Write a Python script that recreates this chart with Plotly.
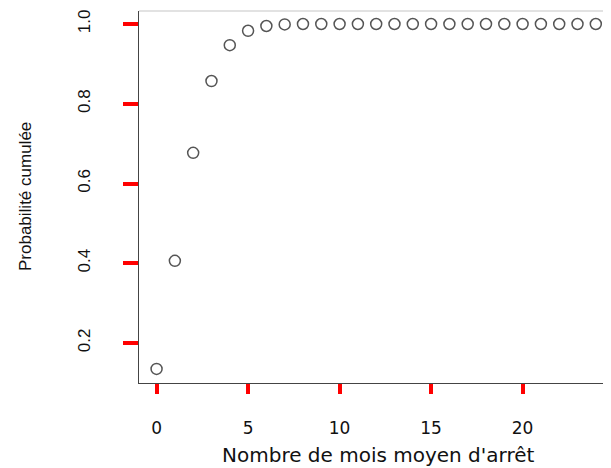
import plotly.graph_objects as go

months = list(range(0, 25))
cum_prob = [0.135, 0.406, 0.677, 0.857, 0.947, 0.983, 0.995, 0.999,
            1.0, 1.0, 1.0, 1.0, 1.0, 1.0, 1.0, 1.0, 1.0, 1.0, 1.0, 1.0,
            1.0, 1.0, 1.0, 1.0, 1.0]
x_ticks = [0, 5, 10, 15, 20]
y_ticks = [0.2, 0.4, 0.6, 0.8, 1.0]
y_tick_labels = ["0.2", "0.4", "0.6", "0.8", "1.0"]

# page body has an 8px margin, so the figure is 8px smaller and shifted
W, H = 603, 460
L, T, B = 131, 3, 85
pw, ph = W - L, H - T - B

fig = go.Figure()
fig.add_trace(go.Scatter(
    x=months, y=cum_prob, mode="markers",
    marker=dict(symbol="circle-open", size=11, color="#555555",
                line=dict(width=1.5, color="#555555")),
    showlegend=False, hoverinfo="skip",
))

fig.update_layout(
    template="simple_white",
    width=W, height=H,
    margin=dict(l=L, r=0, t=T, b=B),
    paper_bgcolor="white", plot_bgcolor="white",
    xaxis=dict(range=[-0.96, 24.83], tickmode="array", tickvals=x_ticks,
               ticks="outside", ticklen=10, tickwidth=4, tickcolor="red",
               showline=True, linecolor="#444", linewidth=1,
               showgrid=False, zeroline=False, ticklabelstandoff=20,
               tickfont=dict(family="DejaVu Sans", size=17, color="#111")),
    yaxis=dict(range=[0.0997, 1.0326], tickmode="array", tickvals=y_ticks,
               ticktext=y_tick_labels,
               ticks="outside", ticklen=15, tickwidth=4, tickcolor="red",
               showline=True, linecolor="#444", linewidth=1,
               showgrid=False, zeroline=False, tickangle=-90,
               ticklabelstandoff=26,
               tickfont=dict(family="Liberation Sans", size=17, color="#111")),
    shapes=[dict(type="line", xref="paper", yref="paper", x0=0, x1=1, y0=1, y1=1,
                 line=dict(color="#444", width=1))],
    annotations=[
        dict(text="Nombre de mois moyen d'arrêt", xref="paper", yref="paper",
             x=(378 - 139) / pw, y=-(455 - 383) / ph, xanchor="center", yanchor="middle",
             showarrow=False, font=dict(family="DejaVu Sans", size=20, color="#111")),
        dict(text="Probabilité cumulée", xref="paper", yref="paper",
             x=-(139 - 25) / pw, y=(383 - 197) / ph, xanchor="center", yanchor="middle",
             textangle=-90, showarrow=False,
             font=dict(family="Liberation Sans", size=17, color="#111")),
    ],
)

fig.write_html("out.html")
